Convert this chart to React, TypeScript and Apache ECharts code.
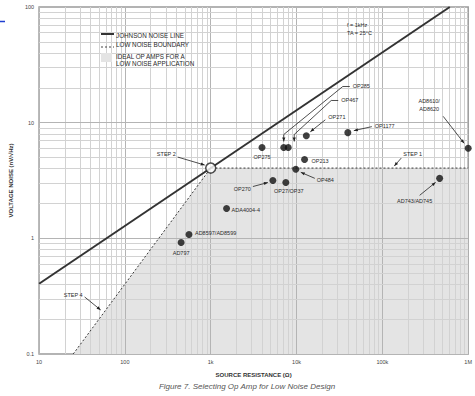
import React, { useEffect, useRef } from 'react';
import * as echarts from 'echarts';

// ---- data ----
const opAmps = ['AD797', 'AD8597/AD8599', 'ADA4004-4', 'OP270', 'OP27/OP37', 'OP484', 'OP213', 'OP275', 'OP285', 'OP467', 'OP271', 'OP1177', 'AD743/AD745', 'AD8610/AD8620'];
const sourceResistance = [452, 558, 1530, 5300, 7500, 9800, 12400, 3960, 7100, 8000, 13000, 39600, 465000, 1000000];
const voltageNoise = [0.92, 1.08, 1.81, 3.16, 3.04, 3.95, 4.8, 6.1, 6.1, 6.1, 7.7, 8.2, 3.3, 6.0];
const johnsonLine = [[10, 0.405], [610000, 100]];
const lowNoiseBoundary = [[25, 0.1], [1000, 4.05], [1000000, 4.05]];
const step2Point = [1000, 4.05];
const step1Target = [134000, 4.05];
const step4Target = [55, 0.222];
const xTickLabels = ['10', '100', '1k', '10k', '100k', '1M'];
const yTickLabels = ['0.1', '1', '10', '100'];

// ---- label layout (pixel offsets from each dot) ----
type Note = { dx: number; dy: number; align: string; leader?: number[][] };
const opAmpNotes: Note[] = [
  { dx: 0, dy: 10, align: 'center' },
  { dx: 6, dy: -1, align: 'left' },
  { dx: 5, dy: 1, align: 'left' },
  { dx: -22, dy: 8, align: 'right', leader: [[-20, 6], [-5, 2]] },
  { dx: 3, dy: 9, align: 'center' },
  { dx: 21, dy: 11, align: 'left', leader: [[19, 9], [5, 3]] },
  { dx: 7, dy: 1, align: 'left' },
  { dx: 0, dy: 10, align: 'center' },
  { dx: 69, dy: -61, align: 'left', leader: [[66, -61], [59, -61], [0, -13], [0, -6]] },
  { dx: 53, dy: -47, align: 'left', leader: [[50, -47], [43, -47], [6, -13], [6, -6]] },
  { dx: 22, dy: -19, align: 'left', leader: [[19, -16], [4, -4]] },
  { dx: 27, dy: -7, align: 'left', leader: [[24, -6], [6, -2]] },
  { dx: -25, dy: 23, align: 'center', leader: [[-20, 17], [-4, 4]] },
  { dx: -39, dy: -43, align: 'center', leader: [[-25, -32], [-4, -5]] },
];

const FONT = 'Arial, "Liberation Sans", sans-serif';
const TXT = '#2a2a2a';

export default function App() {
  const ref = useRef<HTMLDivElement>(null);
  useEffect(() => {
    const chart = echarts.init(ref.current!, null, { renderer: 'svg' });

    const xGrid: number[] = [];
    for (let d = 10; d < 1000000; d *= 10) for (let k = 1; k <= 9; k++) xGrid.push(d * k);
    const yGrid: number[] = [];
    for (let d = 0.1; d < 99; d *= 10) for (let k = 1; k <= 9; k++) yGrid.push(+(d * k).toPrecision(3));

    const gridLine = (v: number, key: 'xAxis' | 'yAxis') => {
      const major = Math.abs(Math.log10(v) - Math.round(Math.log10(v))) < 1e-6;
      return { [key]: v, lineStyle: { color: major ? '#b4b4b4' : '#d2d2d2', width: 1, type: 'solid' } };
    };

    chart.setOption({
      animation: false,
      textStyle: { fontFamily: FONT },
      grid: { left: 37, top: 7, right: 3, bottom: 42, show: true, borderColor: '#9a9a9a', borderWidth: 1.5, backgroundColor: '#fff' },
      xAxis: {
        type: 'log', logBase: 10, min: 10, max: 1000000,
        axisLine: { show: false }, axisTick: { show: false }, splitLine: { show: false },
        axisLabel: { fontSize: 5.5, color: '#444', margin: 5, formatter: (v: number) => xTickLabels[Math.round(Math.log10(v)) - 1] },
        name: 'SOURCE RESISTANCE (Ω)', nameLocation: 'middle', nameGap: 18,
        nameTextStyle: { fontSize: 6, fontWeight: 'bold', color: '#333' },
      },
      yAxis: {
        type: 'log', logBase: 10, min: 0.1, max: 100,
        axisLine: { show: false }, axisTick: { show: false }, splitLine: { show: false },
        axisLabel: { fontSize: 5.5, color: '#444', margin: 5, formatter: (v: number) => yTickLabels[Math.round(Math.log10(v)) + 1] },
        name: 'VOLTAGE NOISE (nV/√Hz)', nameLocation: 'middle', nameGap: 24,
        nameTextStyle: { fontSize: 6, fontWeight: 'bold', color: '#333' },
      },
      series: [
        {
          type: 'line', data: lowNoiseBoundary, showSymbol: false, symbol: 'none', z: 1, silent: true,
          lineStyle: { width: 0, opacity: 0 },
          areaStyle: { color: '#e4e4e4', opacity: 1, origin: 'start' },
        },
        {
          type: 'line', data: [], z: 2, silent: true,
          markLine: {
            z: 2, silent: true, symbol: ['none', 'none'], label: { show: false }, animation: false,
            data: [...xGrid.map((v) => gridLine(v, 'xAxis')), ...yGrid.map((v) => gridLine(v, 'yAxis'))],
          },
        },
        {
          type: 'line', data: lowNoiseBoundary, showSymbol: false, symbol: 'none', z: 8, silent: true,
          lineStyle: { color: '#3a3a3a', width: 1, type: [2, 2] },
        },
        {
          type: 'line', data: johnsonLine, showSymbol: false, symbol: 'none', z: 8, silent: true,
          lineStyle: { color: '#333', width: 2 },
        },
        {
          type: 'scatter', z: 10, silent: true, symbolSize: 7,
          itemStyle: { color: '#111' },
          data: opAmps.map((n, i) => ({ name: n, value: [sourceResistance[i], voltageNoise[i]] })),
        },
        {
          type: 'scatter', z: 11, silent: true, symbolSize: 10,
          itemStyle: { color: '#fff', borderColor: '#222', borderWidth: 1.5 },
          data: [step2Point],
        },
      ],
    });

    const px = (v: number[]) => chart.convertToPixel({ gridIndex: 0 }, v) as number[];
    const els: any[] = [];
    const text = (x: number, y: number, t: string, align: string, size = 5.5, extra: any = {}) =>
      els.push({
        type: 'text', x, y, z: 20, silent: true,
        style: { text: t, fill: TXT, fontSize: size, fontFamily: FONT, align, verticalAlign: 'middle', lineHeight: 8, ...extra },
      });
    const arrow = (pts: number[][]) => {
      els.push({ type: 'polyline', z: 20, silent: true, shape: { points: pts }, style: { stroke: '#222', lineWidth: 0.8, fill: null } });
      const [x2, y2] = pts[pts.length - 1];
      const [x1, y1] = pts[pts.length - 2];
      const L = Math.hypot(x2 - x1, y2 - y1) || 1;
      const ux = (x2 - x1) / L, uy = (y2 - y1) / L;
      const bx = x2 - ux * 4, by = y2 - uy * 4;
      els.push({
        type: 'polygon', z: 20, silent: true,
        shape: { points: [[x2, y2], [bx - uy * 1.6, by + ux * 1.6], [bx + uy * 1.6, by - ux * 1.6]] },
        style: { fill: '#222' },
      });
    };

    opAmps.forEach((n, i) => {
      const [cx, cy] = px([sourceResistance[i], voltageNoise[i]]);
      const note = opAmpNotes[i];
      const label = n === 'AD8610/AD8620' ? 'AD8610/\nAD8620' : n;
      text(cx + note.dx, cy + note.dy, label, note.align);
      if (note.leader) arrow(note.leader.map(([a, b]) => [cx + a, cy + b]));
    });

    // steps
    const s1 = px(step1Target);
    text(s1[0] + 10, s1[1] - 14, 'STEP 1', 'left');
    arrow([[s1[0] + 8, s1[1] - 10], [s1[0] + 1, s1[1] - 2]]);
    const s2 = px(step2Point);
    text(s2[0] - 35, s2[1] - 14, 'STEP 2', 'right');
    arrow([[s2[0] - 33, s2[1] - 11], [s2[0] - 6, s2[1] - 3]]);
    const s4 = px(step4Target);
    text(s4[0] - 20, s4[1] - 19, 'STEP 4', 'right');
    arrow([[s4[0] - 18, s4[1] - 17], [s4[0] - 2, s4[1] - 4]]);

    // legend
    els.push({ type: 'line', z: 20, silent: true, shape: { x1: 101, y1: 34, x2: 114, y2: 34 }, style: { stroke: '#333', lineWidth: 2 } });
    text(116, 35, 'JOHNSON NOISE LINE', 'left', 6.3);
    els.push({ type: 'line', z: 20, silent: true, shape: { x1: 101, y1: 47, x2: 114, y2: 47 }, style: { stroke: '#444', lineWidth: 1, lineDash: [2, 2] } });
    text(116, 44, 'LOW NOISE BOUNDARY', 'left', 6.3);
    els.push({ type: 'rect', z: 20, silent: true, shape: { x: 101, y: 53, width: 11, height: 9 }, style: { fill: '#e4e4e4' } });
    text(116, 56, 'IDEAL OP AMPS FOR A', 'left', 6.3);
    text(116, 63, 'LOW NOISE APPLICATION', 'left', 6.3);

    // conditions
    text(347, 25, 'f = 1kHz', 'left', 5.5);
    text(347, 33, 'TA = 25°C', 'left', 5.5);

    // caption
    text(247, 386, 'Figure 7. Selecting Op Amp for Low Noise Design', 'center', 8, { fontStyle: 'italic', fill: '#555' });

    // small blue mark at top-left
    els.push({ type: 'line', z: 20, silent: true, shape: { x1: 0, y1: 21.5, x2: 5, y2: 21.5 }, style: { stroke: '#1f3fd0', lineWidth: 1.5 } });

    chart.setOption({ graphic: els });
    return () => chart.dispose();
  }, []);
  return <div ref={ref} style={{ position: 'fixed', left: 0, top: 0, width: 475, height: 396, background: '#fff' }} />;
}
